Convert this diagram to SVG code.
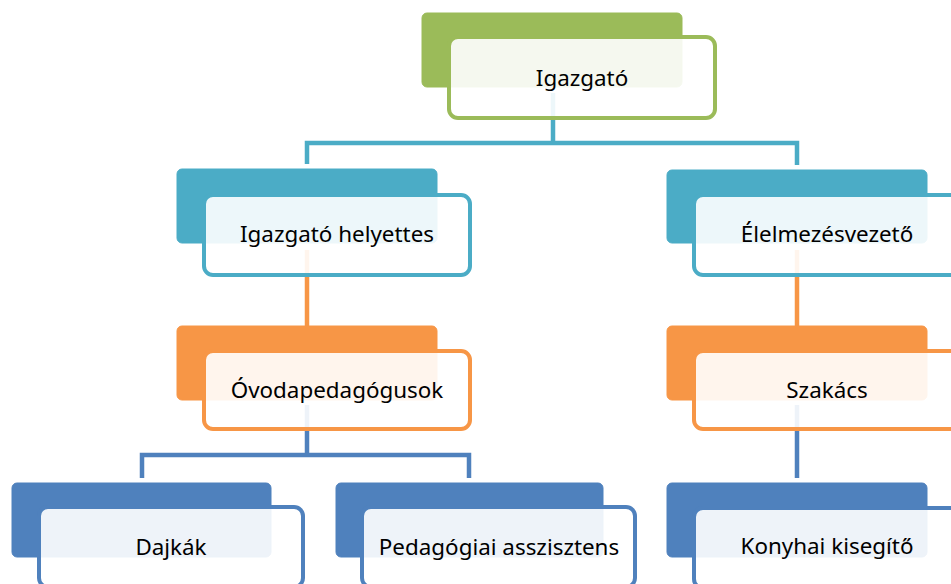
<svg xmlns="http://www.w3.org/2000/svg" width="951" height="584" viewBox="0 0 951 584">
<style>
.back{stroke:none}
.front{fill:#ffffff;fill-opacity:0.9;stroke-width:4}
.lbl{font-family:"Noto Sans","Open Sans","Liberation Sans",sans-serif;font-size:22.4px;fill:#000;text-anchor:middle}
.con{fill:none;stroke-width:4.5;stroke-linejoin:miter}
.g{fill:#9BBB59;stroke:#9BBB59}
.t{fill:#4BACC6;stroke:#4BACC6}
.o{fill:#F79646;stroke:#F79646}
.b{fill:#4F81BD;stroke:#4F81BD}
</style>
<rect width="951" height="584" fill="#ffffff"/>
<g id="connectors">
<path class="con" stroke="#4BACC6" d="M553,93 V143 M307,164 V143 H797 V165"/>
<path class="con" stroke="#F79646" d="M307,250 V326 M797,250 V326"/>
<path class="con" stroke="#4F81BD" d="M307,405 V455 M142,478 V455 H469 V478 M797,405 V478"/>
</g>
<g id="igazgato">
<rect class="back g" x="422" y="13" width="260" height="74" rx="5"/>
<rect class="front" stroke="#9BBB59" x="449" y="37" width="266" height="81" rx="9"/>
<text class="lbl" x="582" y="86">Igazgató</text>
</g>
<g id="igazgato-helyettes">
<rect class="back t" x="177" y="169" width="260" height="74" rx="5"/>
<rect class="front" stroke="#4BACC6" x="204" y="195" width="266" height="80" rx="9"/>
<text class="lbl" x="337" y="242">Igazgató helyettes</text>
</g>
<g id="elelmezesvezeto">
<rect class="back t" x="667" y="170" width="260" height="73" rx="5"/>
<rect class="front" stroke="#4BACC6" x="694" y="195" width="266" height="80" rx="9"/>
<text class="lbl" x="827" y="242">Élelmezésvezető</text>
</g>
<g id="ovodapedagogusok">
<rect class="back o" x="177" y="326" width="260" height="74" rx="5"/>
<rect class="front" stroke="#F79646" x="204" y="351" width="266" height="78" rx="9"/>
<text class="lbl" x="337" y="398">Óvodapedagógusok</text>
</g>
<g id="szakacs">
<rect class="back o" x="667" y="326" width="260" height="74" rx="5"/>
<rect class="front" stroke="#F79646" x="694" y="351" width="266" height="78" rx="9"/>
<text class="lbl" x="827" y="398">Szakács</text>
</g>
<g id="dajkak">
<rect class="back b" x="12" y="483" width="259" height="74" rx="5"/>
<rect class="front" stroke="#4F81BD" x="39" y="507" width="264" height="80" rx="9"/>
<text class="lbl" x="171" y="555">Dajkák</text>
</g>
<g id="pedagogiai-asszisztens">
<rect class="back b" x="336" y="483" width="267" height="74" rx="5"/>
<rect class="front" stroke="#4F81BD" x="362" y="507" width="273" height="80" rx="9"/>
<text class="lbl" x="499" y="555">Pedagógiai asszisztens</text>
</g>
<g id="konyhai-kisegito">
<rect class="back b" x="667" y="483" width="260" height="74" rx="5"/>
<rect class="front" stroke="#4F81BD" x="694" y="508" width="266" height="80" rx="9"/>
<text class="lbl" x="827" y="554">Konyhai kisegítő</text>
</g>
</svg>
